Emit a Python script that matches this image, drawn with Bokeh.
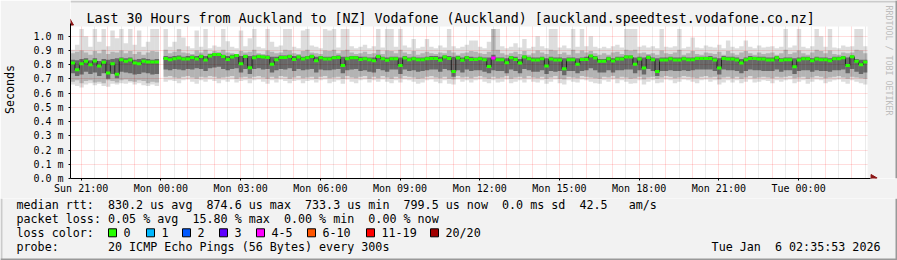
import numpy as np
from bokeh.plotting import figure
from bokeh.layouts import column
from bokeh.models import Range1d, FixedTicker, PrintfTickFormatter
from bokeh.core.properties import value
from bokeh.embed import file_html
from bokeh.resources import INLINE

N = None
# ---------------- data (10-minute columns, values in microseconds) -------------
median_us = [
    811, 764, 806, 823, 799, 825, 790, 816, 741, 806,
    733, 834, 823, 832, 811, 806, 823, 818, 818, 818,
    N, 844, 834, 841, 846, 839, 839, 851, 839, 858,
    832, 860, 872, 872, 858, 837, 853, 865, 806, 858,
    778, 848, 858, 853, 851, 802, 834, 851, 851, 858,
    837, 853, 839, 848, 858, 827, 848, 839, 839, 848,
    851, 794, 841, 848, 848, 837, 841, 834, 827, 858,
    841, 830, 841, 841, 794, 846, 834, 841, 834, 834,
    841, 844, 844, 830, 853, 844, 752, 846, 830, 848,
    837, 837, 841, 834, 787, 846, 834, 834, 813, 848,
    837, 811, 853, 841, 832, 832, 841, 790, 839, 832,
    832, 771, 834, 834, 802, 837, 837, 860, 846, 823,
    823, 841, 825, 839, 839, 853, 853, 802, 839, 776,
    851, 834, 752, 832, 832, 841, 832, 832, 841, 834,
    834, 844, 844, 844, 844, 832, 776, 844, 839, 839,
    832, 811, 834, 844, 844, 839, 839, 832, 832, 848,
    830, 834, 834, 785, 832, 841, 841, 827, 839, 834,
    834, 827, 841, 841, 848, 794, 855, 823, 799, 818]

loss_count = [
    0, 0, 0, 0, 0, 0, 0, 0, 0, 0,  0, 0, 0, 0, 0, 0, 0, 0, 0, 0,
    0, 0, 0, 0, 0, 0, 0, 0, 0, 0,  0, 0, 0, 0, 0, 0, 0, 0, 0, 0,
    0, 0, 0, 0, 0, 0, 0, 0, 0, 0,  0, 0, 0, 0, 0, 0, 0, 0, 0, 0,
    0, 0, 0, 0, 0, 0, 0, 0, 0, 0,  0, 0, 0, 0, 0, 0, 0, 0, 0, 0,
    0, 0, 0, 0, 0, 0, 0, 0, 0, 0,  0, 0, 0, 0, 0, 4, 0, 0, 0, 0,
    0, 0, 0, 0, 0, 0, 0, 0, 0, 0,  0, 0, 0, 0, 0, 0, 0, 0, 0, 0,
    0, 0, 0, 0, 0, 0, 0, 0, 0, 0,  0, 0, 0, 0, 0, 0, 0, 0, 0, 0,
    0, 0, 0, 0, 0, 0, 0, 0, 0, 0,  0, 0, 0, 0, 0, 0, 0, 0, 0, 0,
    0, 0, 0, 0, 0, 0, 0, 0, 0, 0,  0, 0, 0, 0, 0, 0, 0, 0, 0, 0]

max_us = [
    905, 940, 1050, 1000, 925, 1050, 960, 1050, 930, 1040,
    985, 1050, 950, 1050, 940, 1040, 925, 960, 1050, 1050,
    N, 1050, 925, 960, 1050, 990, 930, 915, 1040, 925,
    1050, 915, 935, 925, 1050, 965, 925, 915, 1040, 930,
    985, 1050, 925, 915, 1050, 960, 925, 935, 1050, 1050,
    925, 915, 1040, 1050, 935, 925, 915, 1050, 1040, 1050,
    920, 1050, 1050, 930, 915, 925, 940, 915, 930, 1050,
    920, 1050, 1050, 925, 1050, 935, 920, 980, 915, 925,
    980, 925, 915, 935, 920, 1050, 930, 915, 925, 940,
    970, 970, 925, 915, 960, 1050, 1050, 930, 915, 925,
    950, 920, 980, 915, 925, 1000, 930, 915, 1050, 1050,
    920, 935, 915, 1050, 925, 1050, 930, 1000, 925, 915,
    925, 915, 930, 940, 920, 1050, 1050, 1050, 925, 935,
    920, 930, 915, 1050, 925, 920, 930, 1050, 915, 925,
    990, 920, 915, 935, 925, 920, 940, 915, 970, 925,
    915, 930, 970, 925, 915, 935, 920, 925, 930, 915,
    925, 1050, 920, 935, 1050, 925, 915, 930, 1050, 1000,
    925, 1050, 920, 915, 935, 925, 930, 1050, 1050, 930]

mid_hi_us = [
    880, 890, 900, 885, 870, 895, 880, 905, 875, 890,
    885, 900, 880, 895, 875, 890, 870, 885, 895, 890,
    N, 905, 880, 890, 910, 885, 880, 875, 900, 885,
    905, 880, 895, 890, 905, 885, 880, 875, 895, 885,
    890, 905, 880, 875, 900, 890, 880, 885, 905, 900,
    880, 875, 895, 905, 885, 880, 875, 900, 895, 905,
    880, 900, 905, 885, 875, 880, 890, 875, 880, 905,
    875, 900, 895, 880, 905, 885, 875, 895, 870, 880,
    890, 880, 875, 885, 880, 900, 885, 870, 880, 885,
    895, 890, 880, 875, 890, 1050, 905, 880, 870, 880,
    890, 875, 895, 870, 880, 900, 885, 875, 905, 900,
    875, 885, 870, 905, 880, 900, 885, 895, 880, 870,
    880, 870, 885, 890, 875, 905, 900, 905, 880, 885,
    875, 880, 870, 900, 880, 875, 885, 905, 870, 880,
    895, 875, 870, 885, 880, 875, 890, 870, 895, 880,
    870, 885, 895, 880, 870, 885, 875, 880, 885, 870,
    880, 905, 875, 885, 900, 880, 870, 885, 905, 895,
    880, 900, 875, 870, 885, 880, 885, 905, 900, 880]

dark_hi_us = [
    835, 830, 840, 845, 830, 845, 825, 840, 835, 840,
    845, 850, 845, 850, 835, 840, 845, 840, 835, 840,
    N, 860, 855, 860, 865, 855, 860, 865, 860, 870,
    860, 875, 880, 880, 870, 860, 870, 875, 860, 870,
    860, 865, 870, 865, 865, 855, 855, 865, 865, 870,
    860, 865, 855, 860, 870, 855, 860, 855, 855, 860,
    865, 855, 855, 860, 860, 855, 855, 850, 850, 870,
    855, 850, 855, 855, 850, 860, 850, 855, 850, 850,
    855, 860, 860, 855, 865, 860, 855, 860, 850, 860,
    855, 850, 855, 850, 850, 870, 850, 850, 845, 860,
    855, 840, 865, 855, 850, 850, 855, 845, 855, 850,
    850, 845, 850, 850, 845, 850, 855, 870, 860, 840,
    840, 855, 845, 855, 855, 865, 865, 850, 855, 850,
    865, 850, 845, 850, 850, 855, 850, 850, 855, 850,
    850, 855, 855, 855, 860, 850, 845, 860, 855, 855,
    850, 840, 850, 860, 855, 855, 855, 850, 850, 860,
    845, 850, 850, 845, 850, 855, 855, 845, 855, 850,
    850, 845, 855, 855, 860, 850, 865, 840, 835, 835]

dark_lo_us = [
    740, 720, 730, 750, 735, 745, 720, 740, 700, 735,
    705, 750, 745, 740, 730, 735, 745, 740, 730, 735,
    N, 765, 760, 770, 765, 760, 770, 765, 775, 770,
    755, 775, 780, 785, 770, 760, 770, 775, 745, 770,
    735, 770, 775, 765, 770, 745, 760, 770, 765, 775,
    755, 770, 760, 765, 770, 745, 765, 760, 760, 765,
    770, 740, 760, 765, 770, 755, 760, 750, 745, 770,
    760, 750, 765, 765, 735, 765, 755, 760, 750, 755,
    760, 765, 765, 750, 770, 760, 715, 760, 745, 765,
    755, 760, 760, 750, 740, 760, 755, 755, 740, 765,
    755, 740, 770, 760, 750, 750, 760, 735, 755, 750,
    755, 725, 755, 755, 740, 755, 760, 775, 760, 745,
    745, 760, 745, 760, 760, 765, 765, 740, 760, 730,
    770, 755, 720, 755, 755, 760, 755, 755, 760, 755,
    760, 765, 765, 765, 765, 755, 730, 765, 760, 760,
    755, 740, 755, 765, 760, 760, 755, 755, 755, 765,
    750, 760, 760, 735, 755, 760, 760, 750, 760, 755,
    755, 750, 760, 760, 765, 740, 770, 750, 735, 745]

mid_lo_us = [
    680, 690, 670, 685, 690, 675, 680, 670, 690, 685,
    675, 690, 695, 685, 680, 690, 685, 670, 680, 675,
    N, 715, 720, 710, 705, 715, 720, 710, 700, 715,
    710, 720, 715, 705, 710, 715, 720, 700, 710, 715,
    705, 715, 720, 710, 700, 715, 705, 720, 715, 700,
    710, 720, 705, 710, 715, 700, 715, 720, 705, 710,
    715, 700, 720, 710, 705, 715, 720, 700, 715, 705,
    720, 710, 700, 715, 705, 720, 715, 710, 700, 705,
    715, 720, 710, 705, 715, 700, 695, 720, 710, 715,
    705, 715, 720, 710, 700, 715, 705, 710, 720, 700,
    710, 715, 705, 720, 710, 705, 715, 700, 710, 720,
    700, 695, 715, 710, 705, 720, 715, 710, 705, 700,
    715, 710, 720, 705, 715, 710, 700, 705, 715, 695,
    710, 715, 700, 710, 720, 715, 705, 710, 720, 715,
    710, 705, 715, 720, 710, 715, 695, 710, 715, 705,
    715, 700, 710, 720, 705, 710, 715, 710, 705, 715,
    710, 715, 720, 705, 710, 715, 700, 710, 720, 715,
    705, 710, 715, 720, 710, 700, 715, 710, 705, 700]

min_us = [
    660, 650, 640, 660, 670, 655, 665, 650, 645, 665,
    660, 670, 665, 675, 660, 670, 655, 650, 660, 650,
    N, 680, 690, 685, 670, 690, 695, 680, 665, 690,
    680, 695, 685, 670, 690, 680, 695, 675, 685, 690,
    670, 690, 695, 680, 665, 690, 675, 695, 685, 670,
    685, 690, 670, 685, 690, 675, 690, 695, 670, 680,
    690, 665, 695, 680, 670, 690, 695, 675, 690, 680,
    695, 680, 670, 690, 675, 695, 690, 680, 665, 675,
    690, 695, 680, 670, 690, 665, 660, 695, 680, 690,
    675, 690, 695, 680, 670, 690, 675, 680, 695, 670,
    680, 690, 675, 695, 680, 675, 690, 665, 680, 695,
    670, 660, 690, 680, 675, 695, 690, 680, 670, 665,
    690, 680, 695, 670, 690, 680, 665, 670, 690, 660,
    680, 690, 670, 675, 695, 690, 670, 680, 695, 690,
    680, 670, 690, 695, 680, 690, 660, 675, 690, 675,
    690, 670, 680, 695, 675, 680, 690, 685, 670, 690,
    680, 690, 695, 670, 680, 690, 665, 680, 695, 690,
    670, 680, 690, 695, 680, 665, 690, 680, 670, 660]

tick_labels = ["Sun 21:00", "Mon 00:00", "Mon 03:00", "Mon 06:00", "Mon 09:00",
               "Mon 12:00", "Mon 15:00", "Mon 18:00", "Mon 21:00", "Tue 00:00"]
y_ticks = [0.0, 0.1, 0.2, 0.3, 0.4, 0.5, 0.6, 0.7, 0.8, 0.9, 1.0]

loss_labels = ["0", "1", "2", "3", "4-5", "6-10", "11-19", "20/20"]
loss_colors = ["#26ff00", "#00b8ff", "#0059ff", "#5e00ff", "#ff00ff", "#ff5500", "#ff0000", "#a10000"]
loss_upper = [0, 1, 2, 3, 5, 10, 19, 20]

title_text = "Last 30 Hours from Auckland to [NZ] Vodafone (Auckland) [auckland.speedtest.vodafone.co.nz]"
legend_rows = [
    "median rtt:  830.2 us avg  874.6 us max  733.3 us min  799.5 us now  0.0 ms sd  42.5   am/s",
    "packet loss: 0.05 % avg  15.80 % max  0.00 % min  0.00 % now",
    "loss color:",
    "probe:       20 ICMP Echo Pings (56 Bytes) every 300s",
]
stamp_text = "Tue Jan  6 02:35:53 2026"
watermark = "RRDTOOL / TOBI OETIKER"

# ---------------- layout constants (canvas pixels) ----------------
W, H = 897, 260
FL, FT, FB, FR = 67, 26, 178, 867      # white plot area
MAIN_H = 198
BG = "#f2f2f2"
FONT = "DejaVu Sans Mono"

step_s = 600                 # 10-minute columns
span_s = 30 * 3600           # 30 hours, starting Sun 20:35:53
first_tick_s = 24 * 60 + 7   # Sun 21:00 after start
px_per_s = (FR - FL) / span_s
y_top = 1.068
px_per_unit = (FB - FT) / y_top

def arr(v):
    return np.array([np.nan if a is None else a / 1000.0 for a in v], dtype=float)

med = arr(median_us)
mx, mhi, dhi, dlo, mlo, mn = (arr(a) for a in (max_us, mid_hi_us, dark_hi_us,
                                                dark_lo_us, mid_lo_us, min_us))
left = np.arange(len(med)) * step_s
right = left + step_s

def loss_color(n):
    for up, c in zip(loss_upper, loss_colors):
        if n <= up:
            return c
    return loss_colors[-1]

med_colors = [loss_color(n) for n in loss_count]

# main figure: frame spans from x=67 to the right canvas edge and from the top edge to y=178
p = figure(width=W, height=MAIN_H, output_backend="svg", toolbar_location=None,
           title=None,
           x_range=Range1d(0, (W - FL) / px_per_s),
           y_range=Range1d(0, FB / px_per_unit),
           min_border_left=FL, min_border_right=0, min_border_top=0,
           min_border_bottom=MAIN_H - FB)
p.frame_align = False
p.background_fill_color = "white"
p.border_fill_color = BG
p.outline_line_color = None
p.extra_x_ranges = {"px": Range1d(FL, W)}
p.extra_y_ranges = {"py": Range1d(FB, 0)}

# smoke (translucent so the grid shows through)
p.quad(left=left, right=right, bottom=mn, top=mx, fill_color="black", fill_alpha=0.135, line_color=None)
p.quad(left=left, right=right, bottom=mlo, top=mhi, fill_color="black", fill_alpha=0.19, line_color=None)
p.quad(left=left, right=right, bottom=dlo, top=dhi, fill_color="black", fill_alpha=0.42, line_color=None)

# median: dark step line + loss-coloured bars
p.step(x=np.append(left, span_s), y=np.append(med, med[-1]), mode="after",
       line_color="#202020", line_width=1)
p.segment(x0=left, y0=med, x1=right, y1=med, line_color=med_colors,
          line_width=3, line_cap="butt")

# grey surround outside the white plot area (inside the frame)
p.quad(left=[FL, FR], right=[W, W], top=[0, 0], bottom=[FT, FB], fill_color=BG,
       line_color=None, x_range_name="px", y_range_name="py")
# rrdtool shading of the canvas edge
p.quad(left=[FL, W - 2], right=[W, W], top=[0, 0], bottom=[2, FB],
       fill_color=["#cbcbcb", "#999999"], line_color=None, x_range_name="px", y_range_name="py")

# axes
hour_ticks = [first_tick_s + 3600 * k for k in range(31) if first_tick_s + 3600 * k <= span_s]
half_ticks = [t + 1800 for t in hour_ticks if t + 1800 <= span_s]
label_ticks = [first_tick_s + 3 * 3600 * k for k in range(len(tick_labels))]

p.xaxis.ticker = FixedTicker(ticks=label_ticks)
p.xaxis.major_label_overrides = {t: lab for t, lab in zip(label_ticks, tick_labels)}
p.xaxis.bounds = (0, (870 - FL) / px_per_s)
p.yaxis.ticker = FixedTicker(ticks=y_ticks)
p.yaxis.formatter = PrintfTickFormatter(format="%.1f m")
p.yaxis.bounds = (0, (FB - 23) / px_per_unit)
p.yaxis.axis_label = "Seconds"
p.yaxis.axis_label_text_font = FONT
p.yaxis.axis_label_text_font_size = "11.7px"
p.yaxis.axis_label_text_font_style = "normal"
p.yaxis.axis_label_text_color = "black"
p.yaxis.axis_label_standoff = 13

for ax in (p.xaxis[0], p.yaxis[0]):
    ax.axis_line_color = "black"
    ax.major_tick_line_color = "black"
    ax.major_tick_in = 0
    ax.major_tick_out = 2
    ax.minor_tick_line_color = None
    ax.major_label_text_font = FONT
    ax.major_label_text_font_size = "10px"
    ax.major_label_text_color = "black"
p.xaxis.major_label_standoff = 2
p.yaxis.major_label_standoff = 5

p.xgrid.ticker = FixedTicker(ticks=hour_ticks, minor_ticks=half_ticks)
p.xgrid.grid_line_color = "#ff0000"
p.xgrid.grid_line_alpha = 0.27
p.xgrid.grid_line_dash = "1 1"
p.xgrid.minor_grid_line_color = "#909090"
p.xgrid.minor_grid_line_alpha = 0.35
p.xgrid.minor_grid_line_dash = "1 1"
p.ygrid.ticker = FixedTicker(ticks=y_ticks[1:])
p.ygrid.grid_line_color = "#ff0000"
p.ygrid.grid_line_alpha = 0.27
p.ygrid.grid_line_dash = "1 1"

# axis arrow heads
arrow_col = "#8b1414"
p.scatter(x=[FL - 0.5, 872.5], y=[22.5, FB - 0.5], marker="triangle", size=7,
          angle=[0, -np.pi / 2], fill_color=arrow_col, line_color=arrow_col,
          x_range_name="px", y_range_name="py")

# title and watermark
p.text(x=[448.5], y=[18], text=[title_text.replace(" ", "\u00a0")],
       text_font=value(FONT), text_font_size="13.3px", text_color="black",
       text_align="center", text_baseline="middle", x_range_name="px", y_range_name="py")
p.text(x=[888], y=[60], text=[watermark.replace(" ", "\u00a0")], angle=-np.pi / 2,
       text_font=value(FONT), text_font_size="8.3px", text_color="#bdbdbd",
       text_align="center", text_baseline="middle", x_range_name="px", y_range_name="py")

# ---------------- legend figure (canvas pixel coordinates) ----------------
q = figure(width=W, height=H - MAIN_H, output_backend="svg", toolbar_location=None,
           title=None, x_axis_type=None, y_axis_type=None,
           x_range=Range1d(0, W), y_range=Range1d(H, MAIN_H),
           min_border=0, min_border_left=0, min_border_right=0,
           min_border_top=0, min_border_bottom=0)
q.frame_align = False
q.background_fill_color = BG
q.border_fill_color = BG
q.outline_line_color = None
q.grid.visible = False

row_y = [204.3, 218.3, 232.3, 246.3]
q.text(x=[16] * len(legend_rows), y=row_y,
       text=[t.replace(" ", "\u00a0") for t in legend_rows],
       text_font=value(FONT), text_font_size="11.7px", text_color="black",
       text_align="left", text_baseline="middle")
q.text(x=[880], y=[row_y[3]], text=[stamp_text.replace(" ", "\u00a0")],
       text_font=value(FONT), text_font_size="11.7px", text_color="black",
       text_align="right", text_baseline="middle")

box_x = np.array([108, 146, 182, 219, 256, 307, 366, 430])
q.quad(left=box_x, right=box_x + 8, top=row_y[2] - 4, bottom=row_y[2] + 4,
       fill_color=loss_colors, line_color="black", line_width=1)
q.text(x=box_x + 15, y=[row_y[2]] * len(loss_labels), text=loss_labels,
       text_font=value(FONT), text_font_size="11.7px", text_color="black",
       text_align="left", text_baseline="middle")

# canvas edge shading
q.quad(left=[0, W - 2, 0], right=[2, W, W], top=[MAIN_H, MAIN_H, H - 2], bottom=[H, H, H],
       fill_color=["#cbcbcb", "#999999", "#999999"], line_color=None)

layout = column(p, q, spacing=0)
open("out.html", "w").write(file_html(layout, INLINE))
